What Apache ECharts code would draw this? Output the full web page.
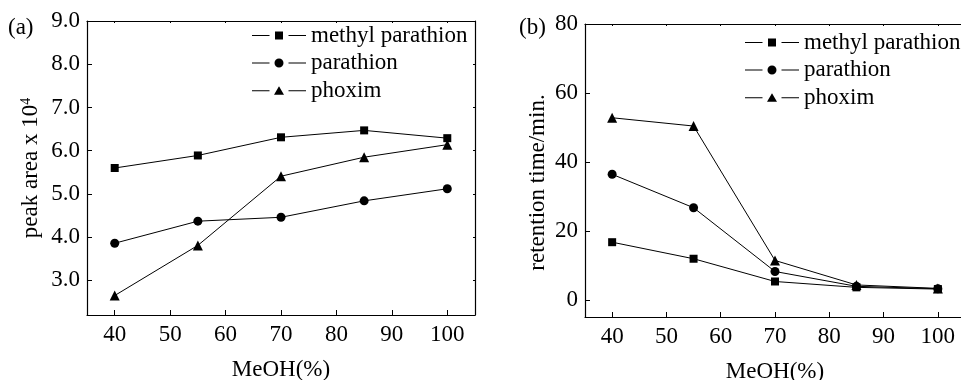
<!DOCTYPE html>
<html>
<head>
<meta charset="utf-8">
<title>MeOH effect</title>
<script src="https://cdn.jsdelivr.net/npm/echarts@6/dist/echarts.min.js"></script>
<style>
  html, body { margin: 0; padding: 0; background: #fff; }
  #chart { width: 961px; height: 380px; }
</style>
</head>
<body>
<div id="chart"></div>
<script>
// MeOH content (%)
const meoh = [40, 55, 70, 85, 100]
const seriesNames = ['methyl parathion', 'parathion', 'phoxim']

// (a) peak area x 10^4
const peakMethylParathion = [5.60, 5.89, 6.31, 6.47, 6.29]
const peakParathion = [3.86, 4.37, 4.46, 4.84, 5.12]
const peakPhoxim = [2.65, 3.81, 5.41, 5.85, 6.14]

// (b) retention time / min
const rtMethylParathion = [16.7, 11.9, 5.3, 3.6, 3.1]
const rtParathion = [36.4, 26.7, 8.2, 3.9, 3.2]
const rtPhoxim = [52.8, 50.4, 11.4, 4.3, 3.3]

// tick labels
const xTicks = [40, 50, 60, 70, 80, 90, 100]
const peakTicks = [3, 4, 5, 6, 7, 8, 9]
const rtTicks = [0, 20, 40, 60, 80]

const FONT = '"Liberation Serif", "Times New Roman", serif'
const FS = 23
const symbols = ['rect', 'circle', 'triangle']
const symbolSizes = [8, 9, 10]
// legend icons: dash - marker - dash
const icons = [
  'path://M0,4.5h17.5v1h-17.5z M23,1h8v8h-8z M36.5,4.5h17.5v1h-17.5z',
  'path://M0,4.5h17.5v1h-17.5z M22.5,5a4.5,4.5 0 1,0 9,0a4.5,4.5 0 1,0 -9,0z M36.5,4.5h17.5v1h-17.5z',
  'path://M0,4.5h17.5v1h-17.5z M22,9L27,0.5L32,9z M36.5,4.5h17.5v1h-17.5z'
]

const zip = (xs, ys) => xs.map((x, i) => [x, ys[i]])
const frameLine = { onZero: false, lineStyle: { color: '#000', width: 1.2 } }

function xAxes(gridIndex) {
  return [{
    gridIndex,
    type: 'value',
    min: 35,
    max: 105,
    name: 'MeOH(%)',
    nameLocation: 'middle',
    nameGap: 43,
    nameTextStyle: { fontFamily: FONT, fontSize: FS, color: '#000' },
    axisLine: frameLine,
    axisTick: { inside: true, length: 5, customValues: xTicks, lineStyle: { color: '#000' } },
    axisLabel: { customValues: xTicks, margin: 8, fontFamily: FONT, fontSize: FS, color: '#000' },
    splitLine: { show: false }
  }, {
    gridIndex,
    type: 'value',
    position: 'top',
    min: 35,
    max: 105,
    axisLine: frameLine,
    axisTick: { inside: true, length: 2, customValues: xTicks, lineStyle: { color: '#000' } },
    axisLabel: { show: false },
    splitLine: { show: false }
  }]
}

function yAxes(gridIndex, min, max, ticks, name, nameGap, namePad, fmt) {
  return [{
    gridIndex,
    type: 'value',
    min,
    max,
    name,
    nameLocation: 'middle',
    nameGap,
    nameTextStyle: {
      fontFamily: FONT, fontSize: FS, color: '#000', padding: namePad,
      rich: { sup: { fontFamily: FONT, fontSize: 14, verticalAlign: 'top', color: '#000' } }
    },
    axisLine: frameLine,
    axisTick: { inside: true, length: 5, customValues: ticks, lineStyle: { color: '#000' } },
    axisLabel: { customValues: ticks, margin: 7, formatter: fmt, fontFamily: FONT, fontSize: FS, color: '#000' },
    splitLine: { show: false }
  }, {
    gridIndex,
    type: 'value',
    position: 'right',
    min,
    max,
    axisLine: frameLine,
    axisTick: { inside: true, length: 2, customValues: ticks, lineStyle: { color: '#000' } },
    axisLabel: { show: false },
    splitLine: { show: false }
  }]
}

function makeSeries(gridIdx, lists) {
  return lists.map((ys, i) => ({
    name: seriesNames[i],
    type: 'line',
    xAxisIndex: gridIdx * 2,
    yAxisIndex: gridIdx * 2,
    data: zip(meoh, ys),
    symbol: symbols[i],
    symbolSize: symbolSizes[i],
    itemStyle: { color: '#000' },
    lineStyle: { color: '#000', width: 1 },
    animation: false
  }))
}

function makeLegend(left, top) {
  return {
    orient: 'vertical',
    left,
    top,
    padding: 0,
    itemWidth: 54,
    itemHeight: 10,
    itemGap: 4.5,
    selectedMode: false,
    data: seriesNames.map((n, i) => ({ name: n, icon: icons[i] })),
    textStyle: { fontFamily: FONT, fontSize: FS, color: '#000' }
  }
}

const chart = echarts.init(document.getElementById('chart'), null, { renderer: 'canvas' })
chart.setOption({
  backgroundColor: '#fff',
  animation: false,
  grid: [
    { left: 87, top: 21, width: 388, height: 294, containLabel: false, outerBoundsMode: 'none' },
    { left: 585, top: 24, width: 380, height: 293, containLabel: false, outerBoundsMode: 'none' }
  ],
  legend: [makeLegend(252, 24), makeLegend(745, 31)],
  xAxis: [...xAxes(0), ...xAxes(1)],
  yAxis: [
    ...yAxes(0, 2.2, 9, peakTicks, 'peak area x 10{sup|4}', 45, 0, v => v.toFixed(1)),
    ...yAxes(1, -5, 80, rtTicks, 'retention time/min.', 36, [0, 24, 0, 0], v => String(v))
  ],
  series: [
    ...makeSeries(0, [peakMethylParathion, peakParathion, peakPhoxim]),
    ...makeSeries(1, [rtMethylParathion, rtParathion, rtPhoxim])
  ],
  graphic: [
    { type: 'text', left: 8, top: 16, style: { text: '(a)', fontFamily: FONT, fontSize: FS, fill: '#000' } },
    { type: 'text', left: 519, top: 16, style: { text: '(b)', fontFamily: FONT, fontSize: FS, fill: '#000' } }
  ]
})
</script>
</body>
</html>
